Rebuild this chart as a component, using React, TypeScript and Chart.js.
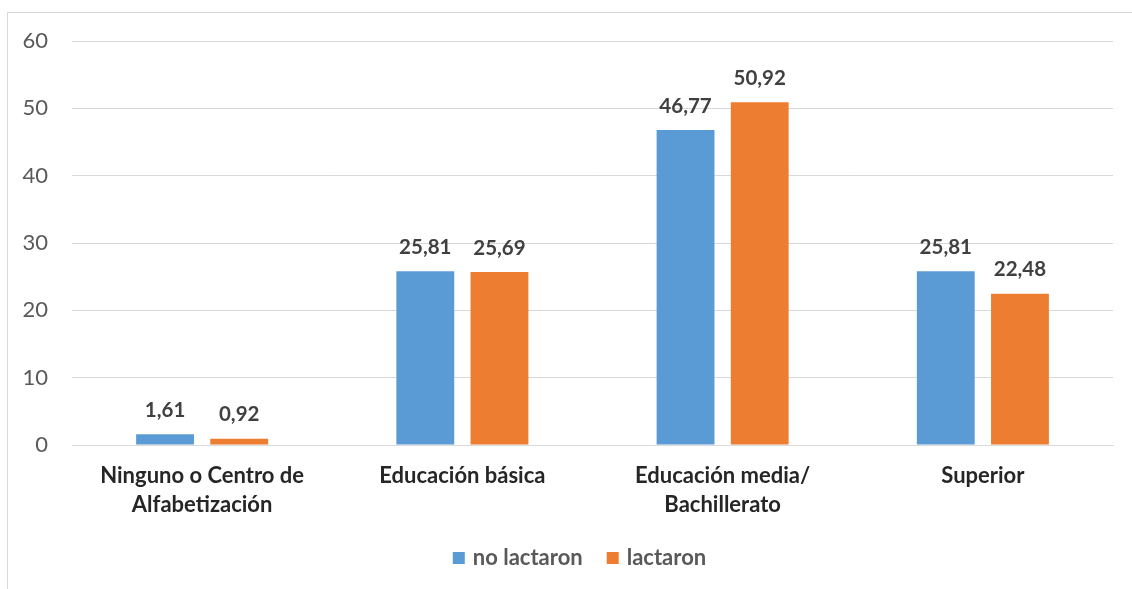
import React, { useEffect, useRef } from "react";
import { Chart, registerables } from "chart.js";

Chart.register(...registerables);

const categories: string[][] = [
  ["Ninguno o Centro de", "Alfabetización"],
  ["Educación básica"],
  ["Educación media/", "Bachillerato"],
  ["Superior"],
];
const noLactaron: number[] = [1.61, 25.81, 46.77, 25.81];
const lactaron: number[] = [0.92, 25.69, 50.92, 22.48];
const seriesNames: string[] = ["no lactaron", "lactaron"];
const yTicks: number[] = [0, 10, 20, 30, 40, 50, 60];

const FONT = "Lato, 'Noto Sans', sans-serif";

const valueLabels = {
  id: "valueLabels",
  afterDatasetsDraw(chart: any) {
    const ctx = chart.ctx;
    ctx.save();
    ctx.font = `bold 20.5px ${FONT}`;
    ctx.fillStyle = "#404040";
    ctx.textAlign = "center";
    ctx.textBaseline = "middle";
    chart.data.datasets.forEach((ds: any, i: number) => {
      const meta = chart.getDatasetMeta(i);
      meta.data.forEach((bar: any, j: number) => {
        const v = ds.data[j] as number;
        ctx.fillText(v.toFixed(2).replace(".", ","), bar.x, bar.y - 24);
      });
    });
    ctx.restore();
  },
};

const customLegend = {
  id: "customLegend",
  afterDraw(chart: any) {
    const ctx = chart.ctx;
    const box = 12;
    const gap = 8;
    const itemGap = 24;
    ctx.save();
    ctx.font = `bold 22px ${FONT}`;
    const items = chart.data.datasets.map((ds: any) => ({
      text: ds.label as string,
      color: ds.backgroundColor as string,
      w: ctx.measureText(ds.label).width,
    }));
    const total =
      items.reduce((a: number, it: any) => a + box + gap + it.w, 0) + itemGap * (items.length - 1);
    const ca = chart.chartArea;
    const cx = (ca.left + ca.right) / 2 - 13;
    const y = chart.scales.x.bottom + 21;
    let x = cx - total / 2;
    ctx.textAlign = "left";
    ctx.textBaseline = "middle";
    items.forEach((it: any) => {
      ctx.fillStyle = it.color;
      ctx.fillRect(x, y - box / 2, box, box);
      x += box + gap;
      ctx.fillStyle = "#595959";
      ctx.fillText(it.text, x, y);
      x += it.w + itemGap;
    });
    ctx.restore();
  },
};

export default function App() {
  const ref = useRef<HTMLCanvasElement>(null);
  useEffect(() => {
    if (!ref.current) return;
    const chart = new Chart(ref.current, {
      type: "bar",
      data: {
        labels: categories,
        datasets: [
          {
            label: seriesNames[0],
            data: noLactaron,
            backgroundColor: "#5B9BD5",
            categoryPercentage: 0.57,
            barPercentage: 0.78,
          },
          {
            label: seriesNames[1],
            data: lactaron,
            backgroundColor: "#ED7D31",
            categoryPercentage: 0.57,
            barPercentage: 0.78,
          },
        ],
      },
      options: {
        animation: false,
        responsive: false,
        layout: { padding: { top: 41, right: 19, bottom: 52, left: 0 } },
        plugins: {
          tooltip: { enabled: false },
          legend: { display: false },
        },
        scales: {
          x: {
            grid: { display: false, drawTicks: false },
            border: { display: true, color: "#d9d9d9", width: 1 },
            ticks: {
              color: "#262626",
              padding: 16,
              maxRotation: 0,
              autoSkip: false,
              font: { family: FONT, size: 22, weight: "bold", lineHeight: 1.32 },
            },
            afterFit: (s: any) => {
              s.height = 92;
            },
          },
          y: {
            min: 0,
            max: 60,
            afterBuildTicks: (s: any) => {
              s.ticks = yTicks.map((v) => ({ value: v }));
            },
            grid: { color: "#d9d9d9", drawTicks: false, lineWidth: 1 },
            border: { display: false },
            ticks: {
              color: "#595959",
              padding: 24,
              font: { family: FONT, size: 22 },
            },
            afterFit: (s: any) => {
              s.width = 72;
            },
          },
        },
      },
      plugins: [valueLabels, customLegend],
    });
    return () => chart.destroy();
  }, []);

  return (
    <div style={{ position: "fixed", left: 0, top: 0, width: 1132, height: 589, background: "#fff" }}>
      <div
        style={{
          position: "absolute",
          left: 7,
          top: 12,
          width: 1200,
          height: 700,
          borderLeft: "1px solid #d9d9d9",
          borderTop: "1px solid #d9d9d9",
        }}
      />
      <canvas ref={ref} width={1132} height={589} style={{ position: "absolute", left: 0, top: 0 }} />
    </div>
  );
}
